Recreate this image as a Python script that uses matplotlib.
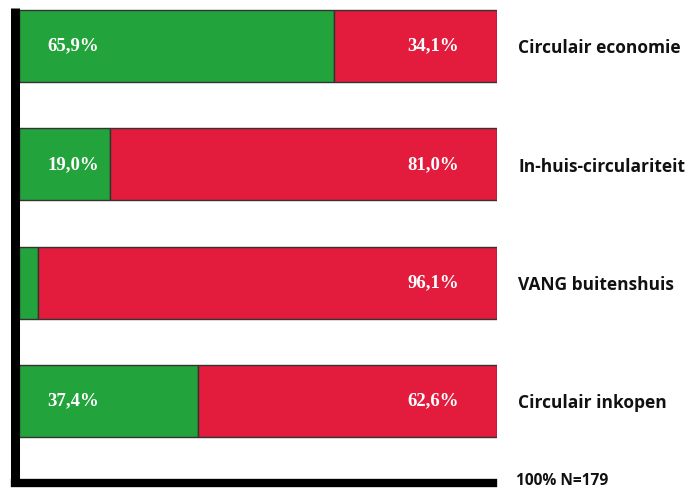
import matplotlib
matplotlib.use("Agg")
import matplotlib.pyplot as plt

categories = ["Circulair economie", "In-huis-circulariteit", "VANG buitenshuis", "Circulair inkopen"]
ja = [65.9, 19.0, 3.9, 37.4]
nee = [34.1, 81.0, 96.1, 62.6]
ja_labels = ["65,9%", "19,0%", None, "37,4%"]
nee_labels = ["34,1%", "81,0%", "96,1%", "62,6%"]
footer = "100% N=179"

GREEN = "#22a33b"
RED = "#e31b3c"

W, H = 693, 490
fig = plt.figure(figsize=(W / 100, H / 100), dpi=100)

left_px, right_px, top_px, bottom_px = 14.5, 497, 8, 483
ax = fig.add_axes([left_px / W, 1 - bottom_px / H, (right_px - left_px) / W, (bottom_px - top_px) / H])

unit = 118.3
first_center = 46
x0_px = 19
px_per_pct = (right_px - x0_px) / 100
xmin = -(x0_px - left_px) / px_per_pct
ax.set_xlim(xmin, 100)
ax.set_ylim((bottom_px - first_center) / unit, (top_px - first_center) / unit)

ypos = list(range(len(categories)))
bar_h = 72 / unit
ax.barh(ypos, ja, height=bar_h, color=GREEN, edgecolor="#333333", linewidth=1.0)
ax.barh(ypos, nee, left=ja, height=bar_h, color=RED, edgecolor="#333333", linewidth=1.0)

serif = dict(family="Liberation Serif", weight="bold", color="white", fontsize=13.5)
for y, lab in zip(ypos, ja_labels):
    if lab:
        ax.text(6.0, y, lab, ha="left", va="center", **serif)
for y, lab in zip(ypos, nee_labels):
    ax.text(92.1, y, lab, ha="right", va="center", **serif)

for y, cat in zip(ypos, categories):
    ax.text(104.4, y + 0.02, cat, ha="left", va="center", family="Open Sans",
            weight="bold", fontsize=12.5, color="#111111")

ax.text(103.9, (481 - first_center) / unit, footer, ha="left", va="center",
        family="Open Sans", weight="bold", fontsize=11.2, color="#111111")

for s in ["top", "right"]:
    ax.spines[s].set_visible(False)
ax.spines["left"].set_linewidth(6.5)
ax.spines["bottom"].set_linewidth(6)
ax.spines["left"].set_color("black")
ax.spines["bottom"].set_color("black")
ax.spines["left"].set_capstyle("butt")
ax.spines["bottom"].set_bounds(xmin, 100 - 4 / px_per_pct)
ax.set_xticks([])
ax.set_yticks([])

fig.savefig("out.png", dpi=100)
